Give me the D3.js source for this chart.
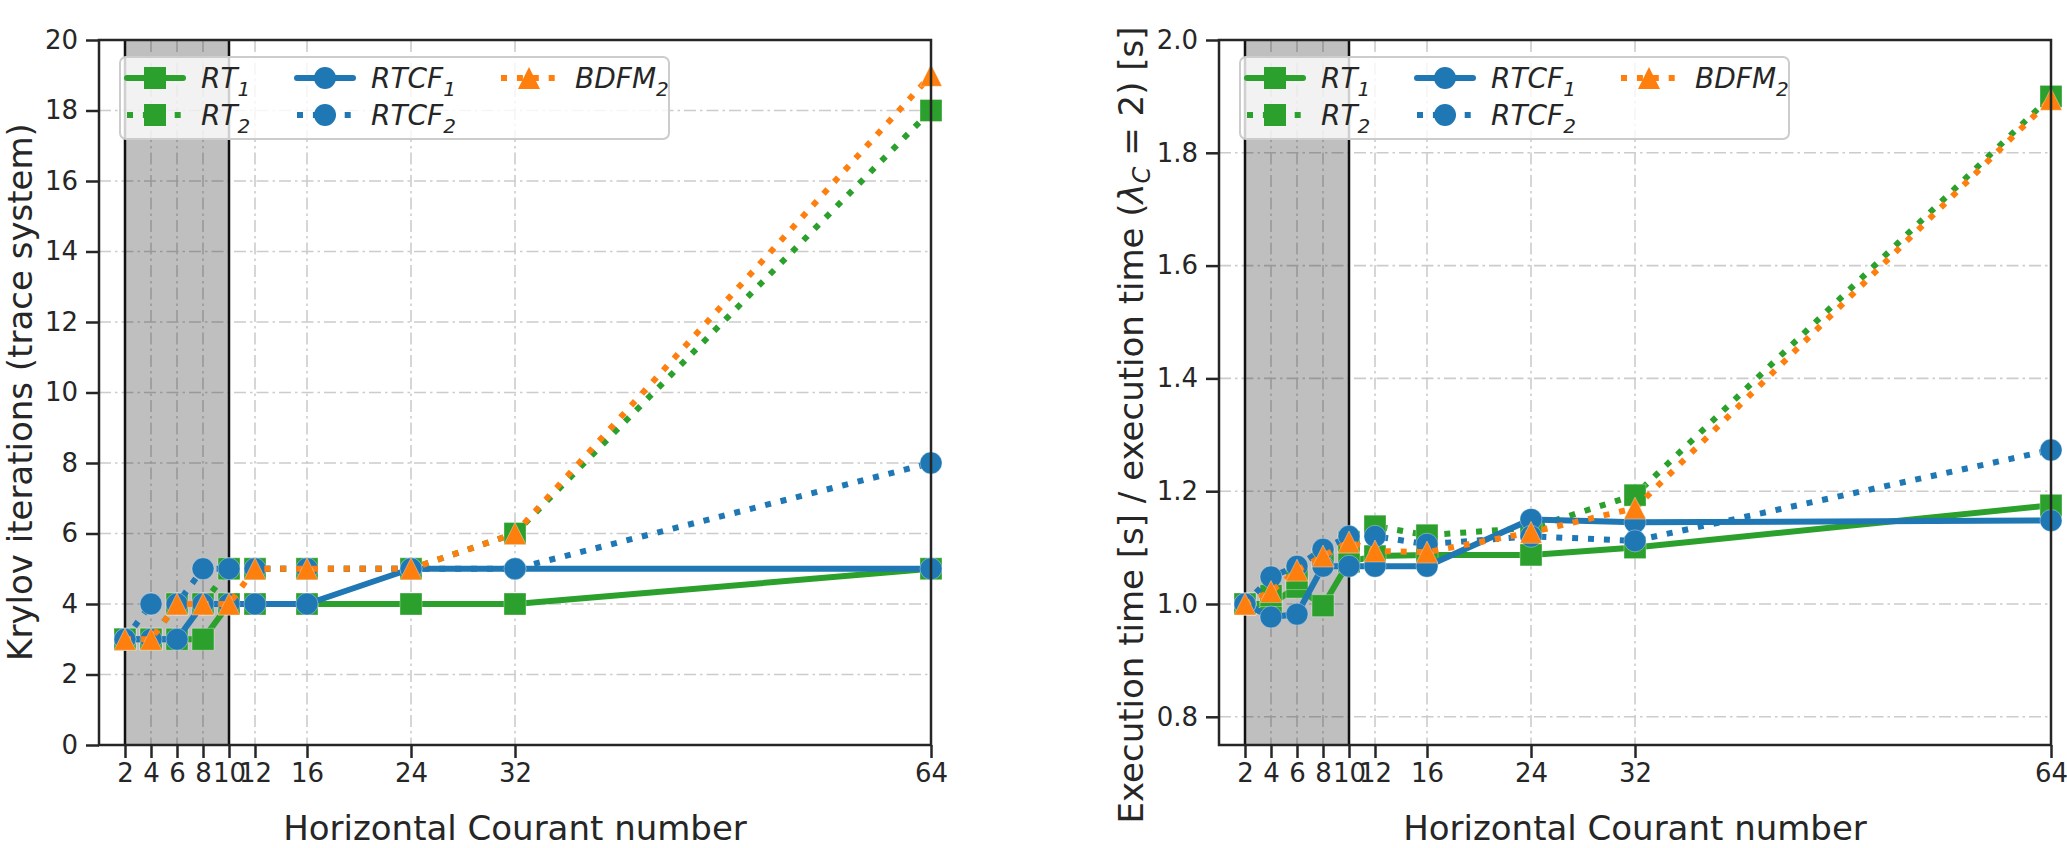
<!DOCTYPE html>
<html>
<head>
<meta charset="utf-8">
<script src="https://cdn.jsdelivr.net/npm/d3@7"></script>
<style>
  body { margin: 0; background: #fff; }
  svg { display: block; font-family: "DejaVu Sans", sans-serif; }
</style>
</head>
<body>
<svg id="chart" width="2067" height="848"></svg>
<script>
// courant numbers (x), shared by both panels
var courant = [2, 4, 6, 8, 10, 12, 16, 24, 32, 64];
var xTicks = [2, 4, 6, 8, 10, 12, 16, 24, 32, 64];

// left panel: krylov iterations
var itRT1   = [3, 3, 3, 3, 4, 4, 4, 4, 4, 5];
var itRT2   = [3, 3, 4, 4, 5, 5, 5, 5, 6, 18];
var itRTCF1 = [3, 3, 3, 4, 4, 4, 4, 5, 5, 5];
var itRTCF2 = [3, 4, 4, 5, 5, 5, 5, 5, 5, 8];
var itBDFM2 = [3, 3, 4, 4, 4, 5, 5, 5, 6, 19];
var itTicks = [0, 2, 4, 6, 8, 10, 12, 14, 16, 18, 20];

// right panel: relative execution time
var tRT1   = [1.0, 1.0, 1.03, 0.997, 1.075, 1.085, 1.087, 1.087, 1.10, 1.175];
var tRT2   = [1.0, 1.015, 1.045, 1.08, 1.11, 1.138, 1.122, 1.135, 1.193, 1.90];
var tRTCF1 = [1.0, 0.977, 0.982, 1.067, 1.067, 1.067, 1.067, 1.150, 1.145, 1.148];
var tRTCF2 = [1.0, 1.048, 1.067, 1.097, 1.12, 1.12, 1.106, 1.12, 1.112, 1.273];
var tBDFM2 = [1.0, 1.022, 1.06, 1.085, 1.11, 1.094, 1.092, 1.127, 1.17, 1.895];
var tTicks = [0.8, 1.0, 1.2, 1.4, 1.6, 1.8, 2.0];

var green = "#2ca02c", blue = "#1f77b4", orange = "#ff7f0e";
var ink = "#262626";

var svg = d3.select("#chart");

function series(vals) {
  return [
    {name: "RT", sub: "1", color: green, dotted: false, marker: "square", v: vals[0]},
    {name: "RT", sub: "2", color: green, dotted: true, marker: "square", v: vals[1]},
    {name: "RTCF", sub: "1", color: blue, dotted: false, marker: "circle", v: vals[2]},
    {name: "RTCF", sub: "2", color: blue, dotted: true, marker: "circle", v: vals[3]},
    {name: "BDFM", sub: "2", color: orange, dotted: true, marker: "triangle", v: vals[4]}
  ];
}

var ms = 22;
function markerPath(kind) {
  var h = ms / 2;
  if (kind == "square") return "M" + (-h) + "," + (-h) + "h" + ms + "v" + ms + "h" + (-ms) + "Z";
  if (kind == "triangle") return "M0," + (-h) + "L" + h + "," + h + "L" + (-h) + "," + h + "Z";
  return d3.symbol(d3.symbolCircle, Math.PI * h * h)();
}

function panel(opt) {
  var left = opt.left, top = 40, w = 832, h = 705;
  var x = d3.scaleLinear().domain([0, 64]).range([0, w]);
  var y = d3.scaleLinear().domain(opt.ydomain).range([h, 0]);
  var g = svg.append("g").attr("transform", "translate(" + left + "," + top + ")");

  // grid
  g.selectAll(".gx").data(xTicks).enter().append("line")
    .attr("x1", function(d) { return x(d); }).attr("x2", function(d) { return x(d); })
    .attr("y1", 0).attr("y2", h)
    .attr("stroke", "#cccccc").attr("stroke-width", 1.6)
    .attr("stroke-dasharray", "12,4,2.5,4");
  g.selectAll(".gy").data(opt.yticks).enter().append("line")
    .attr("x1", 0).attr("x2", w)
    .attr("y1", function(d) { return y(d); }).attr("y2", function(d) { return y(d); })
    .attr("stroke", "#cccccc").attr("stroke-width", 1.6)
    .attr("stroke-dasharray", "12,4,2.5,4");

  // shaded region 2..10
  g.append("rect").attr("x", x(2)).attr("y", 0)
    .attr("width", x(10) - x(2)).attr("height", h)
    .attr("fill", "#000").attr("fill-opacity", 0.25);
  [2, 10].forEach(function(v) {
    g.append("line").attr("x1", x(v)).attr("x2", x(v)).attr("y1", 0).attr("y2", h)
      .attr("stroke", "#111").attr("stroke-width", 2.5);
  });

  var line = d3.line().x(function(d) { return x(d[0]); }).y(function(d) { return y(d[1]); });
  opt.series.forEach(function(s) {
    var pts = courant.map(function(c, i) { return [c, s.v[i]]; });
    var sg = g.append("g");
    sg.append("path").datum(pts).attr("d", line)
      .attr("fill", "none").attr("stroke", s.color).attr("stroke-width", 6)
      .attr("stroke-linejoin", "round")
      .attr("stroke-linecap", s.dotted ? "butt" : "round")
      .attr("stroke-dasharray", s.dotted ? "6,9.9" : null);
    sg.selectAll("path.m").data(pts).enter().append("path").attr("class", "m")
      .attr("transform", function(d) { return "translate(" + x(d[0]) + "," + y(d[1]) + ")"; })
      .attr("d", markerPath(s.marker))
      .attr("fill", s.color).attr("stroke", "#fff").attr("stroke-opacity", 0.35).attr("stroke-width", 1);
  });

  // axes
  var ax = g.append("g").attr("transform", "translate(0," + h + ")")
    .call(d3.axisBottom(x).tickValues(xTicks).tickSize(13).tickPadding(6).tickFormat(d3.format("d")));
  var ay = g.append("g")
    .call(d3.axisLeft(y).tickValues(opt.yticks).tickSize(13).tickPadding(8).tickFormat(opt.yfmt));
  [ax, ay].forEach(function(a) {
    a.select(".domain").remove();
    a.selectAll(".tick line").attr("stroke", ink).attr("stroke-width", 2.5);
    a.selectAll(".tick text").attr("fill", ink).attr("font-size", 26)
      .attr("font-family", "DejaVu Sans");
  });

  g.append("rect").attr("width", w).attr("height", h)
    .attr("fill", "none").attr("stroke", ink).attr("stroke-width", 2.5);

  // labels
  svg.append("text").attr("x", left + w / 2).attr("y", 840)
    .attr("text-anchor", "middle").attr("font-size", 34).attr("fill", ink)
    .text("Horizontal Courant number");
  var yl = svg.append("text")
    .attr("transform", "translate(" + opt.ylabelX + "," + opt.ylabelY + ") rotate(-90)")
    .attr("text-anchor", "middle").attr("font-size", 34).attr("fill", ink);
  opt.ylabel(yl);

  // legend
  var lg = g.append("g").attr("transform", "translate(21,17)");
  lg.append("rect").attr("width", 549).attr("height", 82).attr("rx", 6)
    .attr("fill", "#fff").attr("fill-opacity", 0.8)
    .attr("stroke", "#cccccc").attr("stroke-width", 2);
  var cols = [7, 177, 381], rows = [21, 58];
  opt.series.forEach(function(s, i) {
    var col = i < 2 ? 0 : (i < 4 ? 1 : 2), row = i < 4 ? i % 2 : 0;
    var lx = cols[col], ly = rows[row];
    lg.append("line").attr("x1", lx).attr("x2", lx + 56).attr("y1", ly).attr("y2", ly)
      .attr("stroke", s.color).attr("stroke-width", 6)
      .attr("stroke-linecap", s.dotted ? "butt" : "round")
      .attr("stroke-dasharray", s.dotted ? "6,9.9" : null);
    lg.append("path").attr("transform", "translate(" + (lx + 28) + "," + ly + ")")
      .attr("d", markerPath(s.marker)).attr("fill", s.color);
    var t = lg.append("text").attr("x", lx + 74).attr("y", ly + 10)
      .attr("font-size", 28).attr("font-style", "italic").attr("fill", ink);
    t.append("tspan").text(s.name);
    t.append("tspan").attr("dy", 8).attr("font-size", 20).text(s.sub);
  });
}

panel({
  left: 99,
  ydomain: [0, 20],
  yticks: itTicks,
  yfmt: d3.format("d"),
  series: series([itRT1, itRT2, itRTCF1, itRTCF2, itBDFM2]),
  ylabelX: 32,
  ylabelY: 392,
  ylabel: function(t) { t.text("Krylov iterations (trace system)"); }
});

panel({
  left: 1219,
  ydomain: [0.75, 2.0],
  yticks: tTicks,
  yfmt: d3.format(".1f"),
  series: series([tRT1, tRT2, tRTCF1, tRTCF2, tBDFM2]),
  ylabelX: 1143,
  ylabelY: 425,
  ylabel: function(t) {
    t.append("tspan").text("Execution time [s] / execution time (");
    t.append("tspan").attr("font-style", "italic").text("\u03bb");
    t.append("tspan").attr("font-style", "italic").attr("font-size", 24).attr("dy", 7).text("C");
    t.append("tspan").attr("dy", -7).text(" = 2) [s]");
  }
});
</script>
</body>
</html>
